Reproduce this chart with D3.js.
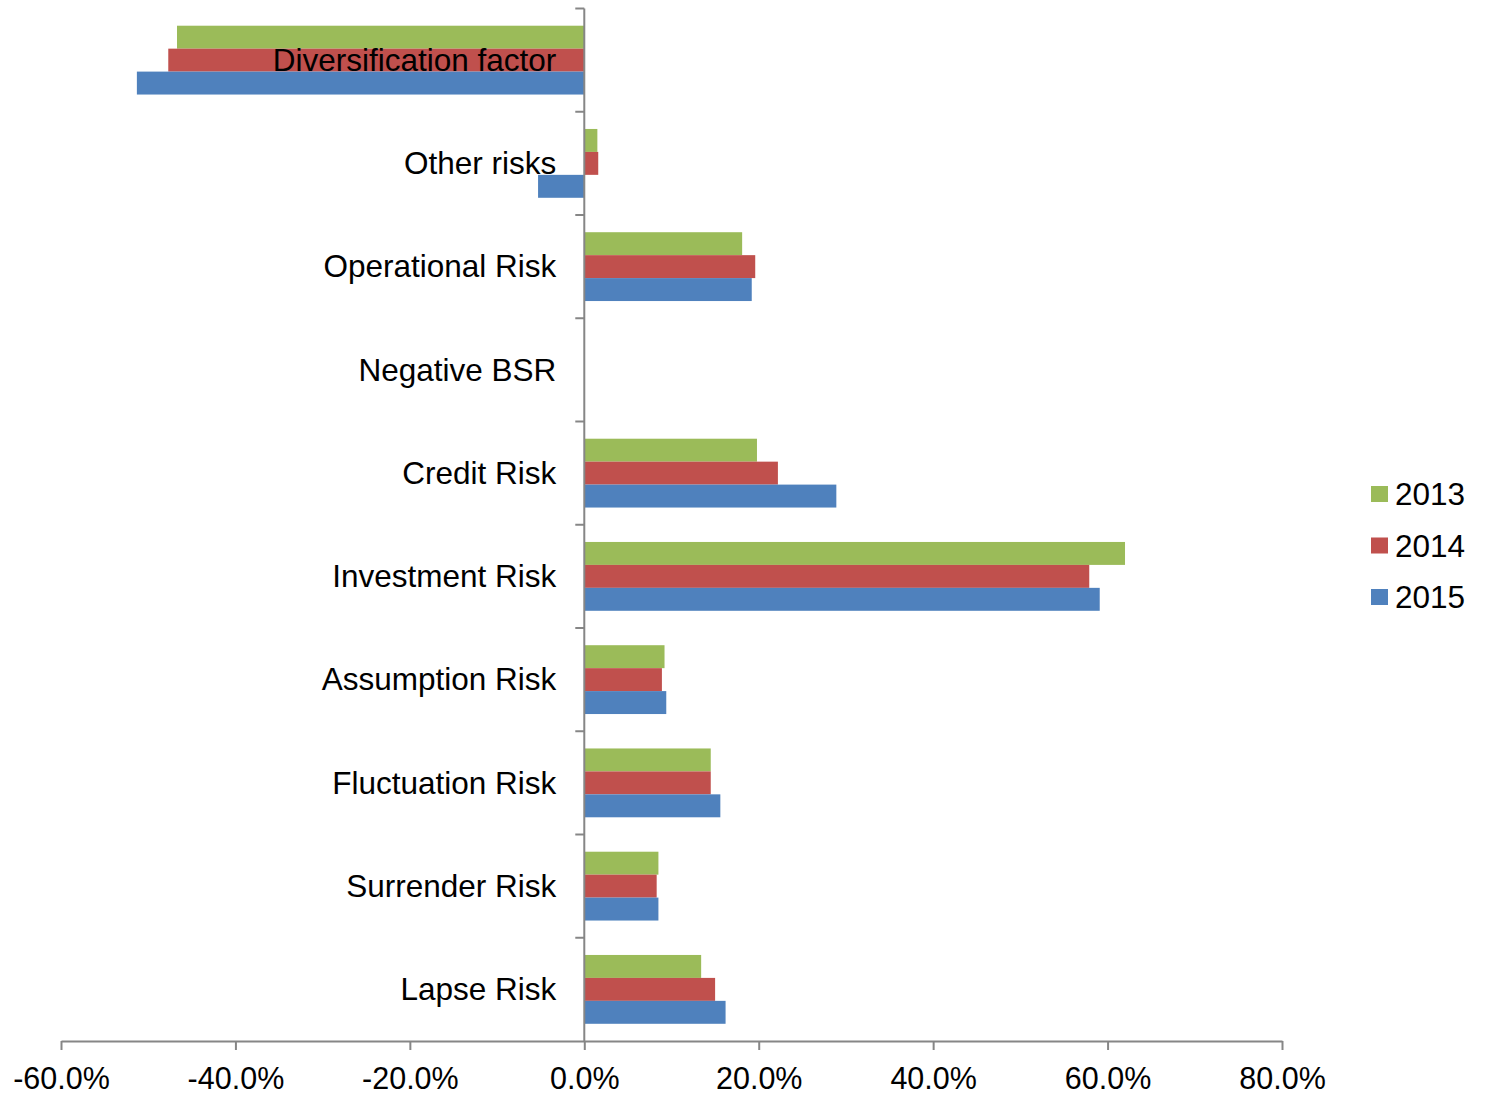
<!DOCTYPE html>
<html>
<head>
<meta charset="utf-8">
<script src="https://cdn.jsdelivr.net/npm/d3@7"></script>
<style>
  html, body { margin: 0; padding: 0; background: #ffffff; }
  svg { display: block; }
  text { font-family: "Liberation Sans", Arial, sans-serif; fill: #000; }
</style>
</head>
<body>
<svg id="chart" width="1485" height="1095"></svg>
<script>
// Risk categories, top to bottom
const categories = [
  "Diversification factor", "Other risks", "Operational Risk", "Negative BSR",
  "Credit Risk", "Investment Risk", "Assumption Risk", "Fluctuation Risk",
  "Surrender Risk", "Lapse Risk"
];

const years = ["2013", "2014", "2015"];
const colors = ["#9BBB59", "#C0504D", "#4F81BD"];

// Share of the capital requirement, in percent
const values2013 = [-46.7, 1.5, 18.1, 0, 19.8, 62.0, 9.2, 14.5, 8.5, 13.4];
const values2014 = [-47.7, 1.6, 19.6, 0, 22.2, 57.9, 8.9, 14.5, 8.3, 15.0];
const values2015 = [-51.3, -5.3, 19.2, 0, 28.9, 59.1, 9.4, 15.6, 8.5, 16.2];

const xTicks = [-60, -40, -20, 0, 20, 40, 60, 80];

const series = [values2013, values2014, values2015];

const svg = d3.select("#chart");
const fontSize = 31.5;
const tickFontSize = 30.5;
const axisColor = "#868686";

const x = d3.scaleLinear().domain([-60, 80]).range([61, 1282]);
const y = d3.scaleBand().domain(categories).range([8.5, 1041])
  .paddingInner(0).paddingOuter(0);
const groupPad = 0.1667;
const yInner = d3.scaleBand().domain(years)
  .range([y.step() * groupPad, y.step() * (1 - groupPad)]);

// Bars
const groups = svg.append("g").selectAll("g")
  .data(categories)
  .join("g")
  .attr("transform", d => `translate(0,${y(d)})`);

groups.selectAll("rect")
  .data((d, i) => years.map((yr, k) => ({ year: yr, k, v: series[k][i] })))
  .join("rect")
  .filter(d => d.v !== 0)
  .attr("x", d => Math.min(x(0), x(d.v)))
  .attr("width", d => Math.abs(x(d.v) - x(0)))
  .attr("y", d => yInner(d.year))
  .attr("height", yInner.bandwidth())
  .attr("fill", d => colors[d.k]);

// X axis; labels use a plain hyphen for negatives
const pct = d => d3.format(".1f")(d).replace("\u2212", "-") + "%";
const xAxis = d3.axisBottom(x)
  .tickValues(xTicks)
  .tickSize(9)
  .tickSizeOuter(0)
  .tickFormat(pct);

const gx = svg.append("g")
  .attr("transform", `translate(0,${y.range()[1]})`)
  .call(xAxis);
gx.select(".domain").attr("stroke", axisColor).attr("stroke-width", 2);
gx.selectAll(".tick line").attr("stroke", axisColor).attr("stroke-width", 2);
gx.selectAll(".tick text")
  .attr("font-size", tickFontSize)
  .attr("font-family", "Liberation Sans, Arial, sans-serif")
  .attr("fill", "#000")
  .attr("dy", "0")
  .attr("y", 47.5);

// Vertical category axis at zero
const boundaries = d3.range(categories.length + 1).map(i => y.range()[0] + i * y.step());
const gy = svg.append("g");
gy.append("line")
  .attr("x1", x(0)).attr("x2", x(0))
  .attr("y1", y.range()[0]).attr("y2", y.range()[1])
  .attr("stroke", axisColor).attr("stroke-width", 2);
gy.selectAll("line.tick")
  .data(boundaries.slice(0, -1))
  .join("line")
  .attr("class", "tick")
  .attr("x1", x(0) - 9).attr("x2", x(0))
  .attr("y1", d => d).attr("y2", d => d)
  .attr("stroke", axisColor).attr("stroke-width", 2);

// Category labels, drawn over the bars
svg.append("g").selectAll("text")
  .data(categories)
  .join("text")
  .attr("x", x(0) - 28)
  .attr("y", d => y(d) + y.bandwidth() / 2)
  .attr("dy", "0.34em")
  .attr("text-anchor", "end")
  .attr("font-size", fontSize)
  .text(d => d);

// Legend
const legend = svg.append("g").attr("transform", "translate(1371,486)");
const legendItems = legend.selectAll("g")
  .data(years)
  .join("g")
  .attr("transform", (d, i) => `translate(0,${i * 51.5})`);
legendItems.append("rect")
  .attr("width", 17).attr("height", 16)
  .attr("fill", (d, i) => colors[i]);
legendItems.append("text")
  .attr("x", 24)
  .attr("y", 8)
  .attr("dy", "0.35em")
  .attr("font-size", fontSize)
  .text(d => d);
</script>
</body>
</html>
